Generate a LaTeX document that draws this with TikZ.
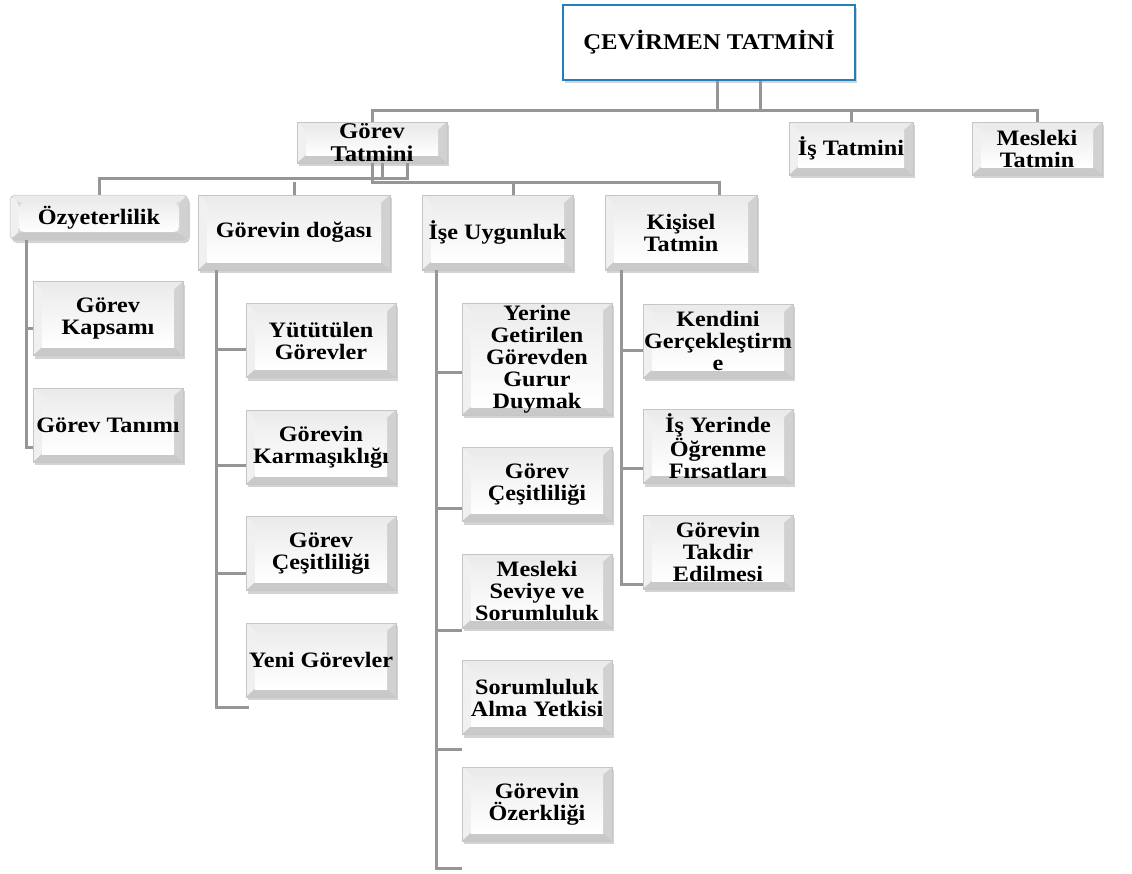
\documentclass[tikz,border=0pt]{standalone}
\usepackage{fontspec}
\setmainfont{Liberation Serif}[FakeStretch=1.1]
\usetikzlibrary{positioning,shadows}
\definecolor{cizgirengi}{RGB}{150,150,150}
\definecolor{mavi}{RGB}{32,128,190}

\begin{document}
\begin{tikzpicture}[
    x=1pt, y=-1pt,
    node distance=32pt,
    kutu/.style={draw=gray!45, line width=0.5pt, fill=gray!30, align=center,
      minimum width=150pt, minimum height=74pt, inner xsep=1pt, inner ysep=2pt,
      font=\bfseries\fontsize{22}{22}\selectfont,
      drop shadow={shadow xshift=2pt, shadow yshift=-3pt, opacity=0.35},
      path picture={
        \coordinate (pNW) at (path picture bounding box.north west);
        \coordinate (pNE) at (path picture bounding box.north east);
        \coordinate (pSW) at (path picture bounding box.south west);
        \coordinate (pSE) at (path picture bounding box.south east);
        \coordinate (iNW) at ([shift={(9pt,-8pt)}]pNW);
        \coordinate (iNE) at ([shift={(-9pt,-8pt)}]pNE);
        \coordinate (iSW) at ([shift={(9pt,8pt)}]pSW);
        \coordinate (iSE) at ([shift={(-9pt,8pt)}]pSE);
        \fill[gray!16] (pNW) -- (pNE) -- (iNE) -- (iNW) -- cycle;
        \fill[gray!12] (pNW) -- (iNW) -- (iSW) -- (pSW) -- cycle;
        \fill[gray!36] (pNE) -- (iNE) -- (iSE) -- (pSE) -- cycle;
        \fill[gray!42] (pSW) -- (iSW) -- (iSE) -- (pSE) -- cycle;
        \shade[top color=gray!14, bottom color=white] (iNW) rectangle (iSE);}},
    anakutu/.style={draw=mavi, line width=2.5pt, fill=white, align=center,
      minimum width=292pt, minimum height=75pt,
      font=\bfseries\fontsize{22.5}{24}\selectfont,
      drop shadow={shadow xshift=2pt, shadow yshift=-3pt, opacity=0.35}},
    cizgi/.style={draw=cizgirengi, line width=3pt}
  ]
    \useasboundingbox (0,0) rectangle (1132,873);

    % ust seviye
    \node[anakutu] (kok) at (709,42.5) {ÇEVİRMEN TATMİNİ};
    \node[kutu, minimum height=41pt, inner ysep=-2pt, font=\bfseries\fontsize{22.5}{23}\selectfont] (gorev) at (372,142.5) {Görev\\Tatmini};
    \node[kutu, minimum width=124pt, minimum height=53pt] (is) at (851,148.5) {İş Tatmini};
    \node[kutu, minimum width=130pt, minimum height=53pt] (mesleki) at (1037,148.5) {Mesleki\\Tatmin};

    % gorev tatmini alt basliklari
    \node[kutu, minimum width=178pt, minimum height=45pt, rounded corners=5pt] (ozy) at (99,217.5) {Özyeterlilik};
    \node[kutu, minimum width=192pt, minimum height=75pt] (doga) at (294,232.5) {Görevin doğası};
    \node[kutu, minimum width=151pt, minimum height=75pt] (uygun) at (497.5,232.5) {İşe Uygunluk};
    \node[kutu, minimum width=152pt, minimum height=75pt] (kisisel) at (681,232.5) {Kişisel\\Tatmin};

    \node[kutu] (kapsam) at (108,318.5) {Görev\\Kapsamı};
    \node[kutu, below=of kapsam] (tanim) {Görev Tanımı};

    \node[kutu] (yurut) at (321,340.5) {Yütütülen\\Görevler};
    \node[kutu, below=of yurut] (karmas) {Görevin\\Karmaşıklığı};
    \node[kutu, below=of karmas] (cesit) {Görev\\Çeşitliliği};
    \node[kutu, below=of cesit] (yeni) {Yeni Görevler};

    \node[kutu] (yerine) at (537,359) {Yerine\\Getirilen\\Görevden\\Gurur\\Duymak};
    \node[kutu, below=of yerine] (cesitb) {Görev\\Çeşitliliği};
    \node[kutu, below=of cesitb] (seviye) {Mesleki\\Seviye ve\\Sorumluluk};
    \node[kutu, below=of seviye] (yetki) {Sorumluluk\\Alma Yetkisi};
    \node[kutu, below=of yetki] (ozerk) {Görevin\\Özerkliği};

    \node[kutu] (kendini) at (718,341) {Kendini\\Gerçekleştirm\\e};
    \node[kutu, below=31pt of kendini] (ogrenme) {İş Yerinde\\Öğrenme\\Fırsatları};
    \node[kutu, below=31pt of ogrenme] (takdir) {Görevin\\Takdir\\Edilmesi};

    % baglantilar
    \coordinate (ust) at (0,110);
    \coordinate (alt1) at (0,178);
    \coordinate (alt2) at (0,182);

    \draw[cizgi] ([xshift=8pt]kok.south) -- ++(0,30);
    \draw[cizgi] ([xshift=51pt]kok.south) -- ++(0,30);
    \draw[cizgi] (gorev.north) |- (ust -| mesleki.north) -- (mesleki.north);
    \draw[cizgi] (is.north) -- (is.north |- ust);

    \draw[cizgi] ([xshift=35pt]gorev.south) |- (alt1 -| ozy.north) -- (ozy.north);
    \draw[cizgi] ([xshift=10pt]gorev.south) -- ++(0,15);
    \draw[cizgi] ([xshift=38pt]kisisel.north) |- (alt2 -| gorev.south) -- (gorev.south);
    \draw[cizgi] (doga.north) -- ++(0,-13);
    \draw[cizgi] ([xshift=16pt]uygun.north) -- ++(0,-13);

    \draw[cizgi] ([xshift=17pt]ozy.south west) |- ([yshift=-10pt]kapsam.west);
    \draw[cizgi] ([xshift=17pt]ozy.south west) |- ([yshift=-22pt]tanim.west);

    \draw[cizgi] ([xshift=19pt]doga.south west) |- ([yshift=-9pt]yurut.west);
    \draw[cizgi] ([xshift=19pt]doga.south west) |- ([yshift=-18pt]karmas.west);
    \draw[cizgi] ([xshift=19pt]doga.south west) |- ([yshift=-20pt]cesit.west);
    \draw[cizgi] ([xshift=19pt]doga.south west) |- ([shift={(3pt,-47pt)}]yeni.west);

    \draw[cizgi] ([xshift=15pt]uygun.south west) |- ([yshift=-13pt]yerine.west);
    \draw[cizgi] ([xshift=15pt]uygun.south west) |- ([yshift=-24pt]cesitb.west);
    \draw[cizgi] ([xshift=15pt]uygun.south west) |- ([yshift=-39pt]seviye.west);
    \draw[cizgi] ([xshift=15pt]uygun.south west) |- ([yshift=-52pt]yetki.west);
    \draw[cizgi] ([xshift=15pt]uygun.south west) |- ([yshift=-64pt]ozerk.west);

    \draw[cizgi] ([xshift=17pt]kisisel.south west) |- ([yshift=-9pt]kendini.west);
    \draw[cizgi] ([xshift=17pt]kisisel.south west) |- ([yshift=-22pt]ogrenme.west);
    \draw[cizgi] ([xshift=17pt]kisisel.south west) |- ([yshift=-32pt]takdir.west);
  \end{tikzpicture}
\end{document}
